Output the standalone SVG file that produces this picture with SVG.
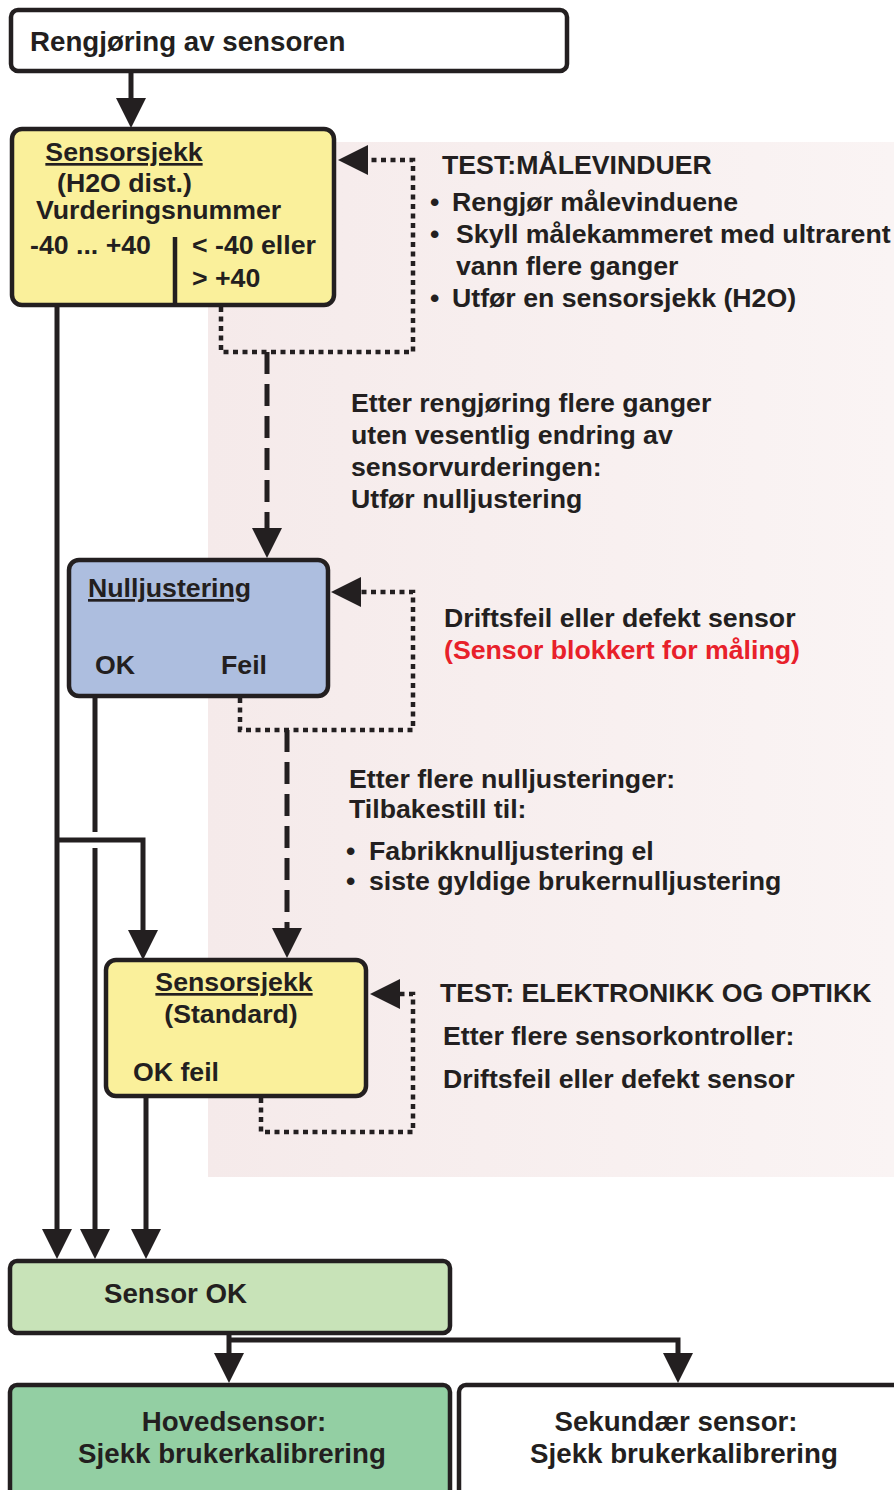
<svg xmlns="http://www.w3.org/2000/svg" width="894" height="1490" viewBox="0 0 894 1490">
<style>
text{font-family:"Liberation Sans",Arial,Helvetica,sans-serif;font-weight:bold;font-size:26.7px;fill:#231f20}
.big{font-size:27.7px}
.box{stroke:#231f20;stroke-width:4.5}
.solid{fill:none;stroke:#231f20;stroke-width:5}
.dash{fill:none;stroke:#231f20;stroke-width:5;stroke-dasharray:22 10}
.dot{fill:none;stroke:#231f20;stroke-width:4.5;stroke-dasharray:5 4.5}
.red{fill:#e8202a}
.u{text-decoration:underline}
</style>
<defs>
<marker id="ah" markerUnits="userSpaceOnUse" markerWidth="32" markerHeight="30" refX="0" refY="15" orient="auto" overflow="visible">
<path d="M0,0 L30,15 L0,30 z" fill="#231f20"/>
</marker>
<linearGradient id="bg" x1="0" y1="0" x2="1" y2="0">
<stop offset="0" stop-color="#f5eaea"/>
<stop offset="1" stop-color="#faf4f4"/>
</linearGradient>
</defs>
<rect x="0" y="0" width="894" height="1490" fill="#ffffff"/>
<rect x="208" y="142" width="686" height="1035" fill="url(#bg)"/>

<g id="connectors">
<path class="solid" d="M131,71 V98" marker-end="url(#ah)"/>
<path class="solid" d="M57,305 V1229" marker-end="url(#ah)"/>
<path class="solid" d="M57,840 H143 V930" marker-end="url(#ah)"/>
<path class="solid" d="M95,696 V832"/>
<path class="solid" d="M95,848 V1229" marker-end="url(#ah)"/>
<path class="solid" d="M146,1096 V1229" marker-end="url(#ah)"/>
<path class="dash" d="M267,352 V528" marker-end="url(#ah)"/>
<path class="dash" d="M287,730 V928" marker-end="url(#ah)"/>
<path class="dot" d="M221,307 V352 H413 V160 H368" marker-end="url(#ah)"/>
<path class="dot" d="M240,698 V730 H413 V592 H361" marker-end="url(#ah)"/>
<path class="dot" d="M261,1098 V1132 H413 V994 H400" marker-end="url(#ah)"/>
<path class="solid" d="M229,1333 V1353" marker-end="url(#ah)"/>
<path class="solid" d="M229,1340 H678 V1353" marker-end="url(#ah)"/>
</g>

<g id="n-rengjoring">
<rect class="box" x="11" y="10" width="556" height="61" rx="7" fill="#ffffff"/>
<text x="30" y="51" class="big">Rengjøring av sensoren</text>
</g>

<g id="n-sensorsjekk-h2o">
<rect class="box" x="12" y="129" width="322" height="176" rx="10" fill="#faf09b"/>
<line x1="175" y1="237" x2="175" y2="305" stroke="#231f20" stroke-width="4.5"/>
<text x="124" y="161" text-anchor="middle" class="u">Sensorsjekk</text>
<text x="57" y="192">(H2O dist.)</text>
<text x="36" y="219">Vurderingsnummer</text>
<text x="30" y="254">-40 ... +40</text>
<text x="192" y="254">&lt; -40 eller</text>
<text x="192" y="287">&gt; +40</text>
</g>

<g id="t-malevinduer">
<text x="442" y="174">TEST:MÅLEVINDUER</text>
<text x="430" y="211">•</text><text x="452" y="211">Rengjør målevinduene</text>
<text x="430" y="243">•</text><text x="456" y="243">Skyll målekammeret med ultrarent</text>
<text x="456" y="275">vann flere ganger</text>
<text x="430" y="307">•</text><text x="452" y="307">Utfør en sensorsjekk (H2O)</text>
</g>

<g id="t-etter-rengjoring">
<text x="351" y="412">Etter rengjøring flere ganger</text>
<text x="351" y="444">uten vesentlig endring av</text>
<text x="351" y="476">sensorvurderingen:</text>
<text x="351" y="508">Utfør nulljustering</text>
</g>

<g id="n-nulljustering">
<rect class="box" x="69" y="560" width="259" height="136" rx="10" fill="#adbedf"/>
<text x="88" y="597" class="u">Nulljustering</text>
<text x="95" y="674">OK</text>
<text x="221" y="674">Feil</text>
</g>

<g id="t-driftsfeil">
<text x="444" y="627">Driftsfeil eller defekt sensor</text>
<text x="444" y="659" class="red">(Sensor blokkert for måling)</text>
</g>

<g id="t-etter-nulljusteringer">
<text x="349" y="788">Etter flere nulljusteringer:</text>
<text x="349" y="818">Tilbakestill til:</text>
<text x="346" y="860">•</text><text x="369" y="860">Fabrikknulljustering el</text>
<text x="346" y="890">•</text><text x="369" y="890">siste gyldige brukernulljustering</text>
</g>

<g id="n-sensorsjekk-standard">
<rect class="box" x="106" y="960" width="260" height="136" rx="10" fill="#faf09b"/>
<text x="234" y="991" text-anchor="middle" class="u">Sensorsjekk</text>
<text x="231" y="1023" text-anchor="middle">(Standard)</text>
<text x="133" y="1081">OK feil</text>
</g>

<g id="t-elektronikk">
<text x="440" y="1002">TEST: ELEKTRONIKK OG OPTIKK</text>
<text x="443" y="1045">Etter flere sensorkontroller:</text>
<text x="443" y="1088">Driftsfeil eller defekt sensor</text>
</g>

<g id="n-sensor-ok">
<rect class="box" x="10" y="1261" width="440" height="72" rx="7" fill="#c8e3b8"/>
<text x="104" y="1303" class="big">Sensor OK</text>
</g>

<g id="n-hovedsensor">
<rect class="box" x="10" y="1385" width="440" height="130" rx="7" fill="#93cfa3"/>
<text x="234" y="1431" text-anchor="middle" class="big">Hovedsensor:</text>
<text x="232" y="1463" text-anchor="middle" class="big">Sjekk brukerkalibrering</text>
</g>

<g id="n-sekundaer">
<rect class="box" x="459" y="1385" width="460" height="130" rx="7" fill="#ffffff"/>
<text x="676" y="1431" text-anchor="middle" class="big">Sekundær sensor:</text>
<text x="684" y="1463" text-anchor="middle" class="big">Sjekk brukerkalibrering</text>
</g>
</svg>
